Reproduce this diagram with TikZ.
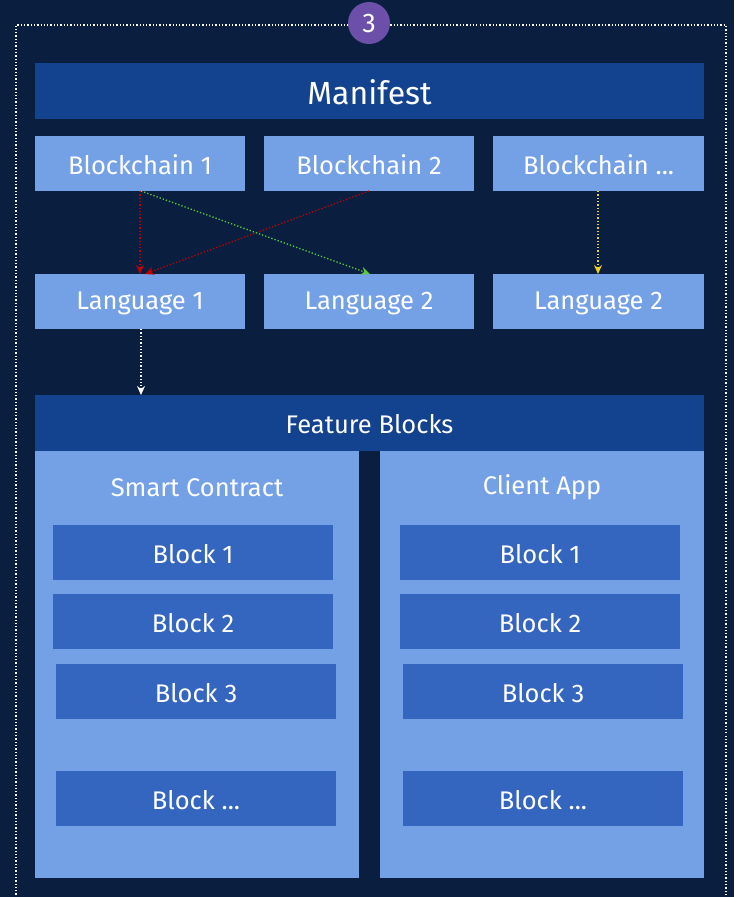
\documentclass[tikz,border=0pt]{standalone}
\usepackage{fontspec}
\setmainfont{Fira Sans}
\usetikzlibrary{arrows.meta}
\definecolor{bg}{HTML}{0A1F40}
\definecolor{hdr}{HTML}{13428F}
\definecolor{lite}{HTML}{74A0E6}
\definecolor{blk}{HTML}{3566BF}
\definecolor{badge}{HTML}{6B4FA8}
\definecolor{ared}{HTML}{C00000}
\definecolor{agreen}{HTML}{5CC93A}
\definecolor{ayellow}{HTML}{F0D020}
\tikzset{
  box/.style={inner sep=0pt, text=white, yshift=-1.5pt, font=\fontsize{25.5}{30}\selectfont},
  conn/.style={dotted, line width=1.3pt, -{Stealth[length=9pt,width=8pt]}},
}
\begin{document}
\begin{tikzpicture}[x=1pt,y=-1pt]
\fill[bg] (0,0) rectangle (734,897);
\useasboundingbox (0,0) rectangle (734,897);
\draw[white, dotted, line width=1.3pt] (16,898) -- (16,25) -- (726,25) -- (726,898);
\node[circle, fill=badge, minimum size=42pt, inner sep=0pt, text=white, font=\fontsize{27}{30}\selectfont] (badge) at (369,23) {3};
% Manifest
\fill[hdr] (35,63) rectangle (704,119);
\node[box, font=\fontsize{32}{36}\selectfont] (manifest) at (369.5,91) {Manifest};
% Blockchains
\fill[lite] (35,136) rectangle (245,191);
\fill[lite] (264,136) rectangle (474,191);
\fill[lite] (493,136) rectangle (704,191);
\node[box] (bc1) at (140,163.5) {Blockchain 1};
\node[box] (bc2) at (369,163.5) {Blockchain 2};
\node[box] (bc3) at (598.5,163.5) {Blockchain ...};
\coordinate (bc1s) at (140,191);
\coordinate (bc1g) at (141,191);
\coordinate (bc2s) at (369,191);
\coordinate (bc3s) at (598,191);
% Languages
\fill[lite] (35,274) rectangle (245,329);
\fill[lite] (264,274) rectangle (474,329);
\fill[lite] (493,274) rectangle (704,329);
\node[box] (l1) at (140,301.5) {Language 1};
\node[box] (l2) at (369,301.5) {Language 2};
\node[box] (l3) at (598.5,301.5) {Language 2};
\coordinate (l1t) at (140,274);
\coordinate (l1r) at (145,274);
\coordinate (l2t) at (370,274);
\coordinate (l3t) at (598,274);
\coordinate (l1b) at (141,329);
\coordinate (fbt) at (141,395);
% arrows
\draw[conn, ared] (bc1s) -- (l1t);
\draw[conn, ared] (bc2s) -- (l1r);
\draw[conn, agreen] (bc1g) -- (l2t);
\draw[conn, ayellow] (bc3s) -- (l3t);
\draw[conn, white] (l1b) -- (fbt);
% Feature blocks
\fill[hdr] (35,395) rectangle (704,451);
\node[box] (fb) at (369.5,423) {Feature Blocks};
\fill[lite] (35,451) rectangle (359,878);
\fill[lite] (380,451) rectangle (704,878);
\node[box] (sc) at (197,486) {Smart Contract};
\node[box] (ca) at (542,486) {Client App};
% left blocks
\fill[blk] (53,525) rectangle (333,580);
\fill[blk] (53,594) rectangle (333,649);
\fill[blk] (56,664) rectangle (336,719);
\fill[blk] (56,771) rectangle (336,826);
\node[box] (lb1) at (193,552.5) {Block 1};
\node[box] (lb2) at (193,621.5) {Block 2};
\node[box] (lb3) at (196,691.5) {Block 3};
\node[box] (lb4) at (196,798.5) {Block ...};
% right blocks
\fill[blk] (400,525) rectangle (680,580);
\fill[blk] (400,594) rectangle (680,649);
\fill[blk] (403,664) rectangle (683,719);
\fill[blk] (403,771) rectangle (683,826);
\node[box] (rb1) at (540,552.5) {Block 1};
\node[box] (rb2) at (540,621.5) {Block 2};
\node[box] (rb3) at (543,691.5) {Block 3};
\node[box] (rb4) at (543,798.5) {Block ...};
\end{tikzpicture}
\end{document}
